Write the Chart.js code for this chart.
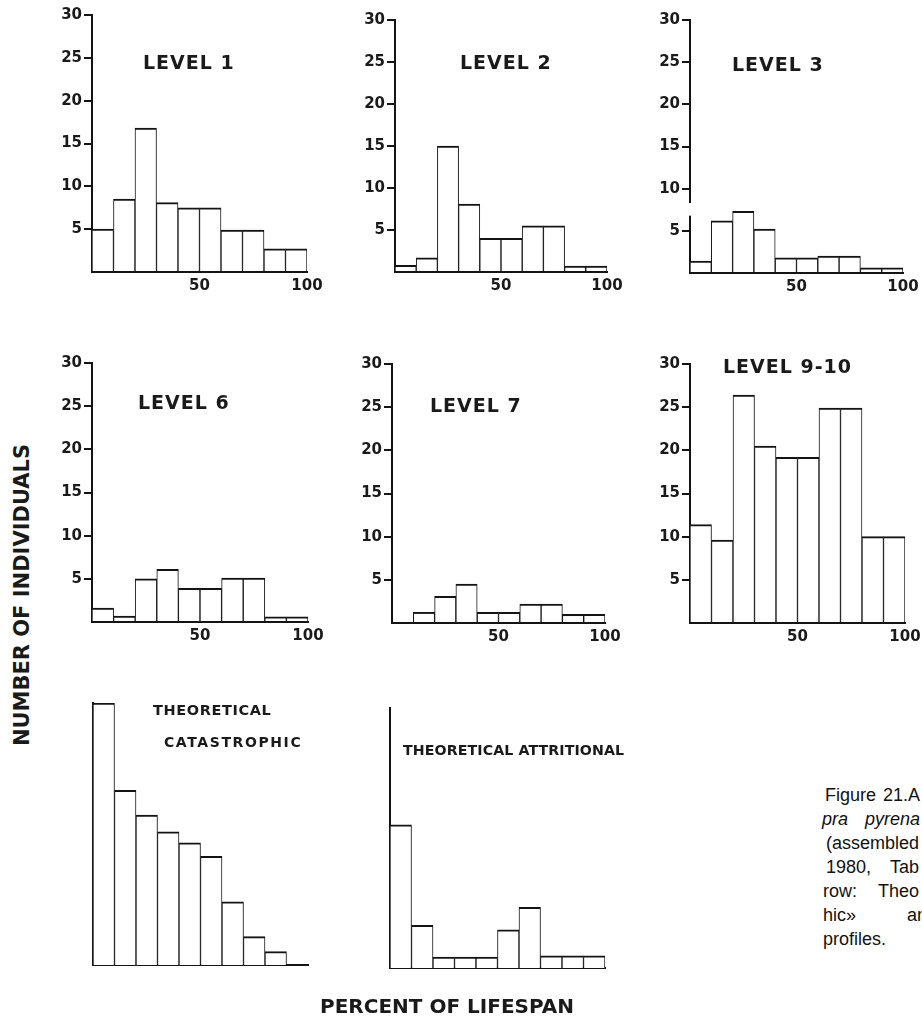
<!DOCTYPE html>
<html><head><meta charset="utf-8">
<script src="https://cdn.jsdelivr.net/npm/chart.js@4.4.0/dist/chart.umd.min.js"></script>
<style>
html,body{margin:0;padding:0;background:#fff;overflow:hidden;width:922px;height:1019px;}
#wrap{position:relative;width:922px;height:1019px;overflow:hidden;background:#fff;}
canvas{position:absolute;}
.t{position:absolute;font-family:"DejaVu Sans";font-weight:bold;color:#1a1a1a;white-space:nowrap;line-height:1;}
.cap{position:absolute;font-family:"Liberation Sans",Arial,sans-serif;font-size:18px;line-height:18px;color:#111;white-space:nowrap;}
.cap i{font-style:italic;}
</style></head><body><div id="wrap"></div>
<script>
// ---------- data ----------
const binStarts = [0,10,20,30,40,50,60,70,80,90];      // percent of lifespan, 10% bins
const xTickValues = [0,50,100];
const yTickValues = [0,5,10,15,20,25,30];
const level1   = [5.0,8.5,16.8,8.1,7.5,7.5,4.9,4.9,2.7,2.7];
const level2   = [0.8,1.7,15.0,8.1,4.0,4.0,5.5,5.5,0.7,0.7];
const level3   = [1.4,6.2,7.3,5.2,1.8,1.8,2.0,2.0,0.6,0.6];
const level6   = [1.6,0.7,5.0,6.1,3.9,3.9,5.1,5.1,0.6,0.6];
const level7   = [0,1.25,3.1,4.5,1.25,1.25,2.2,2.2,1.0,1.0];
const level910 = [11.4,9.6,26.4,20.5,19.2,19.2,24.9,24.9,10.0,10.0];
const catastrophic = [100,66.7,57.2,50.8,46.6,41.5,24.1,10.8,5.1,0];   // relative heights
const attritional  = [55.1,16.4,4.2,4.2,4.2,14.7,23.3,4.7,4.7,4.7];    // relative heights
const panelTitles = ["LEVEL 1","LEVEL 2","LEVEL 3","LEVEL 6","LEVEL 7","LEVEL 9-10"];
const theoTitles = ["THEORETICAL","CATASTROPHIC","THEORETICAL ATTRITIONAL"];
const xAxisTitle = "PERCENT OF LIFESPAN";
const yAxisTitle = "NUMBER OF INDIVIDUALS";

// ---------- layout ----------
const INK = '#141414';
const PAD = {l:55, r:22, t:12, b:32};
const panels = [
  {data:level1,  ax:92,  x100:307, top:15,  base:272, max:30, ticks:true},
  {data:level2,  ax:395, x100:607, top:20,  base:272, max:30, ticks:true},
  {data:level3,  ax:690, x100:903, top:20,  base:273, max:30, ticks:true, brk:[6.8,8.3]},
  {data:level6,  ax:92,  x100:308, top:363, base:622, max:30, ticks:true},
  {data:level7,  ax:392, x100:605, top:364, base:623, max:30, ticks:true},
  {data:level910,ax:690, x100:905, top:364, base:623, max:30, ticks:true},
  {data:catastrophic, ax:93, x100:308, top:703, base:965, max:100, ticks:false},
  {data:attritional,  ax:390, x100:605, top:708, base:968, max:100, ticks:false}
];

const axisBreak = {
  id:'axisBreak',
  afterDraw(chart, args, opts){
    if(!opts || !opts.range) return;
    const y = chart.scales.y, ctx = chart.ctx;
    const p1 = y.getPixelForValue(opts.range[1]), p0 = y.getPixelForValue(opts.range[0]);
    ctx.save(); ctx.fillStyle = '#fff';
    ctx.fillRect(chart.chartArea.left-3, p1, 6, p0-p1);
    ctx.restore();
  }
};

const wrap = document.getElementById('wrap');
panels.forEach((p)=>{
  const c = document.createElement('canvas');
  const w = p.x100 - p.ax + PAD.l + PAD.r;
  const h = p.base - p.top + PAD.t + PAD.b;
  c.width = w; c.height = h;
  c.style.left = (p.ax - PAD.l) + 'px';
  c.style.top = (p.top - PAD.t) + 'px';
  c.style.width = w+'px'; c.style.height = h+'px';
  wrap.appendChild(c);
  new Chart(c, {
    type:'bar',
    data:{datasets:[{
      data: binStarts.map((s,i)=>({x:s+5, y:p.data[i]})),
      backgroundColor:'#fff',
      borderColor:INK,
      borderWidth:{top:2,left:1,right:1,bottom:0},
      borderSkipped:'start',
      barPercentage:1, categoryPercentage:1
    }]},
    options:{
      responsive:false, animation:false, devicePixelRatio:1,
      layout:{padding:{left:0,right:PAD.r,top:PAD.t,bottom:0}},
      plugins:{legend:{display:false}, tooltip:{enabled:false}, axisBreak:{range:p.brk||null}},
      scales:{
        x:{type:'linear', min:0, max:100, offset:false,
           afterBuildTicks(s){ s.ticks = xTickValues.map(v=>({value:v})); },
           afterFit(s){ s.height = PAD.b; },
           grid:{display:false, drawTicks:false, offset:false},
           border:{display:true, color:INK, width:2},
           ticks:{display:p.ticks, padding:5, color:'#1a1a1a', maxRotation:0, autoSkip:false,
                  font:{family:'DejaVu Sans', weight:'bold', size:15},
                  callback:v=> v===0 ? '' : String(v)}},
        y:{min:0, max:p.max,
           afterBuildTicks(s){ s.ticks = p.ticks ? yTickValues.map(v=>({value:v})) : []; },
           afterFit(s){ s.width = PAD.l; },
           grid:{display:p.ticks, drawOnChartArea:false, drawTicks:true, tickLength:8, lineWidth:2,
                 color:ctx=> (ctx.tick && ctx.tick.value===0) ? 'rgba(0,0,0,0)' : INK},
           border:{display:true, color:INK, width:2},
           ticks:{display:p.ticks, padding:2, color:'#1a1a1a', autoSkip:false,
                  font:{family:'DejaVu Sans', weight:'bold', size:15},
                  callback:v=> v===0 ? '' : String(v)}}
      }
    },
    plugins:[axisBreak]
  });
});

// titles
function addText(txt, left, top, size, ls, cls){
  const d = document.createElement('div');
  d.className = cls||'t'; d.textContent = txt;
  d.style.left = left+'px'; d.style.top = top+'px';
  if(size) d.style.fontSize = size+'px';
  if(ls!=null) d.style.letterSpacing = ls+'px';
  wrap.appendChild(d); return d;
}
const titlePos = [[143,53],[460,53],[732,55],[138,393],[430,396],[723,357]];
panelTitles.forEach((t,i)=> addText(t, titlePos[i][0], titlePos[i][1], 19, 1));
addText(theoTitles[0], 153, 703, 14.5, 0.6);
addText(theoTitles[1], 164, 735, 14, 1.6);
addText(theoTitles[2], 403, 743, 14.2, 0.1);
addText(xAxisTitle, 320, 996, 20, 0);
const yl = addText(yAxisTitle, 0, 0, 21, 0);
yl.style.left = '22px'; yl.style.top = '595px';
yl.style.transform = 'translate(-50%,-50%) rotate(-90deg)';

// caption (clipped at page edge)
const captionLines = [
  [["Figure",825],["21.A",883]],
  [["<i>pra</i>",822],["<i>pyrena</i>",865]],
  [["(assembled",826]],
  [["1980,",826],["Tab",890]],
  [["row:",823],["Theo",878]],
  [["hic»",823],["an",907]],
  [["profiles.",823]]
];
captionLines.forEach((line,i)=>{
  line.forEach(([w,x])=>{
    const s = document.createElement('div');
    s.className='cap'; s.innerHTML = w;
    s.style.left = x+'px'; s.style.top = (797 + 24*i - 11)+'px';
    wrap.appendChild(s);
  });
});
</script></body></html>
